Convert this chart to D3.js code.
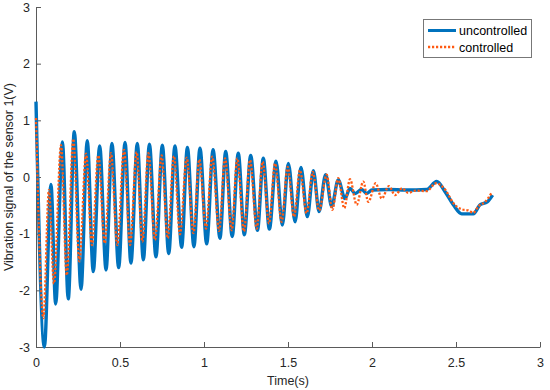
<!DOCTYPE html>
<html>
<head>
<meta charset="utf-8">
<style>
    body { margin: 0; background: #fff; }
    svg { display: block; font-family: Arial, "Liberation Sans", sans-serif; }
    .axis .domain { stroke: #5a5a5a; stroke-width: 1; }
    .axis .tick line { stroke: #5a5a5a; }
    .axis .tick text { font-size: 12.5px; fill: #262626; }
    .axis-label { font-size: 12.5px; fill: #262626; }
    .legend-text { font-size: 12.5px; fill: #000; }
</style>
</head>
<body>
<svg width="550" height="390"></svg>
<script src="https://d3js.org/d3.v7.min.js"></script>
<script>
// peaks and troughs (time in s, signal in V)
const uncontrolledT = [0, 0.05, 0.089, 0.117, 0.157, 0.192, 0.228, 0.268, 0.305, 0.341,
    0.379, 0.417, 0.452, 0.492, 0.530, 0.565, 0.603, 0.639, 0.675, 0.714,
    0.752, 0.790, 0.827, 0.867, 0.901, 0.940, 0.976, 1.016, 1.054, 1.095,
    1.129, 1.168, 1.204, 1.240, 1.278, 1.318, 1.353, 1.389, 1.429, 1.466,
    1.502, 1.542, 1.577, 1.615, 1.651, 1.685, 1.724, 1.760, 1.799, 1.839,
    1.869, 1.899, 1.939, 1.968, 2.0, 2.1, 2.2, 2.325, 2.385, 2.435,
    2.484, 2.534, 2.603, 2.643, 2.686, 2.718]
const uncontrolledV = [1.33, -3.0, -0.13, -2.24, 0.62, -2.15, 0.80, -1.98, 0.64, -1.67,
    0.55, -1.64, 0.59, -1.60, 0.61, -1.52, 0.59, -1.46, 0.58, -1.41,
    0.56, -1.35, 0.55, -1.24, 0.52, -1.23, 0.51, -1.18, 0.48, -1.08,
    0.45, -1.05, 0.42, -1.02, 0.38, -0.94, 0.33, -0.92, 0.28, -0.85,
    0.24, -0.79, 0.17, -0.70, 0.11, -0.61, 0.04, -0.52, -0.05, -0.38,
    -0.20, -0.29, -0.22, -0.29, -0.23, -0.22, -0.23, -0.22, -0.08, -0.26,
    -0.49, -0.65, -0.65, -0.49, -0.44, -0.32]

const controlledT = [0, 0.044, 0.077, 0.107, 0.149, 0.183, 0.222, 0.258, 0.298, 0.333,
    0.371, 0.409, 0.446, 0.484, 0.524, 0.560, 0.599, 0.633, 0.669, 0.708,
    0.748, 0.784, 0.821, 0.857, 0.897, 0.937, 0.972, 1.012, 1.049, 1.090,
    1.125, 1.165, 1.198, 1.238, 1.274, 1.314, 1.349, 1.387, 1.423, 1.462,
    1.498, 1.536, 1.571, 1.611, 1.647, 1.685, 1.730, 1.764, 1.799, 1.835,
    1.869, 1.909, 1.948, 1.978, 2.022, 2.058, 2.101, 2.137, 2.180, 2.216,
    2.26, 2.325, 2.381, 2.435, 2.484, 2.534, 2.573, 2.603, 2.633, 2.673, 2.712]
const controlledV = [1.04, -2.49, -0.23, -1.88, 0.56, -1.73, 0.67, -1.49, 0.41, -1.20,
    0.38, -1.17, 0.42, -1.20, 0.48, -1.20, 0.44, -1.14, 0.42, -1.11,
    0.38, -1.08, 0.37, -1.01, 0.34, -0.99, 0.31, -0.91, 0.36, -0.95,
    0.33, -0.94, 0.33, -0.96, 0.30, -0.91, 0.27, -0.82, 0.24, -0.79,
    0.18, -0.70, 0.12, -0.64, 0.09, -0.59, 0.04, -0.58, -0.02, -0.55,
    -0.04, -0.49, -0.08, -0.44, -0.11, -0.38, -0.16, -0.32, -0.20, -0.28,
    -0.24, -0.25, -0.11, -0.22, -0.46, -0.57, -0.59, -0.63, -0.52, -0.44, -0.28]

const xTicks = [0, 0.5, 1, 1.5, 2, 2.5, 3]
const yTicks = [-3, -2, -1, 0, 1, 2, 3]
const seriesNames = ["uncontrolled", "controlled"]

let margin = { top: 7, right: 10, bottom: 43, left: 36 }
let width = 550, height = 390

let svg = d3.select("svg")

let x = d3.scaleLinear()
    .domain([0, 3])
    .range([margin.left, width - margin.right])

let y = d3.scaleLinear()
    .domain([-3, 3])
    .range([height - margin.bottom, margin.top])

// axes, ticks pointing inward like matlab
svg.append("g")
    .attr("class", "x axis")
    .attr("transform", `translate(0,${height - margin.bottom})`)
    .call(d3.axisBottom(x).tickValues(xTicks).tickSize(-5).tickPadding(11).tickSizeOuter(0)
        .tickFormat(d => String(d)))

svg.append("g")
    .attr("class", "y axis")
    .attr("transform", `translate(${margin.left},0)`)
    .call(d3.axisLeft(y).tickValues(yTicks).tickSize(-5).tickPadding(6).tickSizeOuter(0)
        .tickFormat(d => String(d)))

let line = d3.line()
    .x(d => x(d[0]))
    .y(d => y(d[1]))
    .curve(d3.curveMonotoneX)

let uncData = uncontrolledT.map((t, i) => [t, uncontrolledV[i]])
let conData = controlledT.map((t, i) => [t, controlledV[i]])

svg.append("path")
    .datum(uncData)
    .attr("fill", "none")
    .attr("stroke", "#0072BD")
    .attr("stroke-width", 3.4)
    .attr("stroke-linejoin", "round")
    .attr("d", line)

svg.append("path")
    .datum(conData)
    .attr("fill", "none")
    .attr("stroke", "#FF5A12")
    .attr("stroke-width", 2.3)
    .attr("stroke-dasharray", "2.2,1.8")
    .attr("d", line)

// axis labels
svg.append("text")
    .attr("class", "axis-label")
    .attr("x", (x(0) + x(3)) / 2)
    .attr("y", 385)
    .attr("text-anchor", "middle")
    .text("Time(s)")

svg.append("text")
    .attr("class", "axis-label")
    .attr("transform", `translate(13,${y(0)}) rotate(-90)`)
    .attr("text-anchor", "middle")
    .text("Vibration signal of the sensor 1(V)")

// legend
let legend = svg.append("g")
legend.append("rect")
    .attr("x", 423.5).attr("y", 19.5)
    .attr("width", 108).attr("height", 38)
    .attr("fill", "#fff")
    .attr("stroke", "#777")
    .attr("stroke-width", 1)

legend.append("line")
    .attr("x1", 428).attr("x2", 456).attr("y1", 30.5).attr("y2", 30.5)
    .attr("stroke", "#0072BD").attr("stroke-width", 3)
legend.append("line")
    .attr("x1", 428).attr("x2", 456).attr("y1", 47).attr("y2", 47)
    .attr("stroke", "#FF5A12").attr("stroke-width", 2.3).attr("stroke-dasharray", "2.2,1.8")

legend.selectAll("text")
    .data(seriesNames)
    .join("text")
    .attr("class", "legend-text")
    .attr("x", 459)
    .attr("y", (d, i) => i === 0 ? 35 : 51.5)
    .text(d => d)
</script>
</body>
</html>
